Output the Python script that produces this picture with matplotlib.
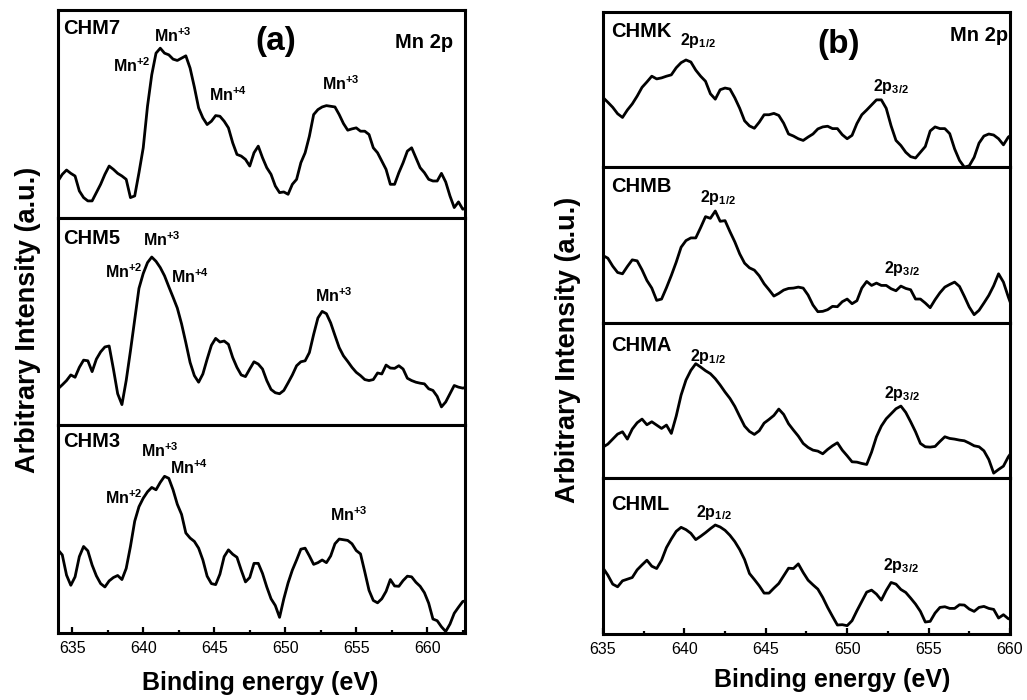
import numpy as np
import matplotlib
matplotlib.use("Agg")
import matplotlib.pyplot as plt
from matplotlib.ticker import MultipleLocator

plt.rcParams['font.family'] = ['Liberation Sans', 'DejaVu Sans']
plt.rcParams['mathtext.fontset'] = 'custom'
plt.rcParams['mathtext.rm'] = 'Liberation Sans:bold'
plt.rcParams['mathtext.bf'] = 'Liberation Sans:bold'
plt.rcParams['mathtext.it'] = 'Liberation Sans:bold'
plt.rcParams['mathtext.sf'] = 'Liberation Sans:bold'
plt.rcParams['mathtext.default'] = 'rm'

# Binding-energy grids (eV) of the two sets of scans
energy_a = np.arange(634.0, 662.85, 0.3)
energy_b = np.arange(635.0, 660.25, 0.3)

# Mn 2p spectra, set (a)
chm7 = [110, 130, 143, 133, 125, 80, 60, 50, 50, 75,
        100, 130, 155, 145, 133, 125, 115, 60, 65, 135,
        210, 335, 430, 495, 510, 495, 490, 477, 473, 480,
        487, 450, 393, 330, 300, 280, 290, 307, 305, 290,
        270, 225, 190, 185, 175, 155, 195, 215, 180, 150,
        130, 95, 75, 77, 70, 100, 115, 165, 195, 245,
        310, 325, 333, 337, 335, 333, 310, 283, 263, 267,
        270, 260, 260, 250, 210, 195, 170, 145, 100, 100,
        135, 165, 200, 210, 180, 150, 135, 115, 110, 110,
        133, 107, 65, 30, 47, 25, 30]
chm5 = [110, 122, 135, 152, 145, 175, 197, 195, 162, 200,
        222, 237, 240, 170, 95, 62, 135, 225, 320, 415,
        460, 493, 510, 497, 478, 453, 420, 388, 355, 307,
        250, 190, 150, 130, 155, 200, 242, 263, 252, 255,
        245, 205, 175, 152, 147, 170, 192, 185, 170, 135,
        108, 98, 95, 105, 128, 152, 180, 192, 195, 220,
        275, 325, 345, 338, 310, 272, 235, 210, 193, 175,
        160, 150, 138, 135, 138, 158, 155, 182, 173, 172,
        180, 170, 142, 135, 130, 127, 125, 110, 105, 87,
        55, 70, 95, 120, 115, 112, 115]
chm3 = [245, 230, 170, 140, 165, 225, 255, 242, 200, 168,
        145, 135, 153, 163, 169, 157, 190, 255, 330, 373,
        398, 417, 430, 423, 445, 463, 457, 423, 380, 350,
        295, 280, 270, 250, 215, 167, 145, 142, 173, 225,
        245, 232, 223, 185, 150, 163, 205, 205, 175, 135,
        100, 80, 45, 100, 147, 185, 215, 247, 250, 227,
        202, 207, 215, 207, 227, 263, 277, 275, 273, 263,
        243, 233, 180, 125, 95, 88, 100, 122, 157, 138,
        137, 154, 167, 165, 149, 137, 118, 87, 40, 35,
        17, 3, 25, 57, 75, 92, 95]

# Mn 2p spectra, set (b)
chmk = [207, 193, 178, 159, 148, 170, 188, 211, 237, 253,
        270, 262, 265, 270, 274, 295, 310, 318, 312, 288,
        270, 255, 218, 202, 230, 235, 232, 206, 175, 138,
        123, 116, 134, 156, 156, 160, 154, 131, 99, 93,
        85, 80, 90, 99, 114, 120, 122, 115, 115, 97,
        85, 95, 130, 156, 170, 185, 200, 200, 175, 123,
        80, 65, 45, 32, 28, 45, 62, 108, 120, 115,
        115, 100, 55, 21, 1, 5, 30, 72, 93, 99,
        96, 85, 67, 90, 100]
chmb = [203, 195, 171, 152, 148, 170, 190, 187, 160, 128,
        105, 68, 72, 106, 143, 183, 228, 248, 256, 256,
        287, 320, 315, 337, 306, 308, 275, 244, 208, 180,
        166, 159, 142, 118, 100, 81, 89, 99, 104, 105,
        108, 105, 84, 54, 34, 35, 40, 50, 49, 64,
        72, 58, 67, 105, 125, 113, 120, 113, 113, 103,
        97, 111, 104, 100, 72, 72, 60, 46, 70, 91,
        108, 116, 123, 110, 80, 48, 25, 38, 60, 83,
        112, 148, 123, 78, 38]
chma = [94, 103, 118, 133, 140, 118, 148, 167, 178, 161,
        170, 160, 150, 160, 135, 187, 250, 295, 324, 344,
        334, 323, 314, 299, 280, 259, 240, 216, 186, 157,
        141, 132, 143, 166, 177, 189, 208, 192, 164, 145,
        127, 105, 93, 85, 82, 74, 87, 98, 107, 85,
        68, 50, 49, 45, 42, 79, 125, 157, 179, 194,
        209, 217, 198, 170, 140, 105, 95, 94, 96, 111,
        125, 120, 118, 115, 113, 106, 98, 95, 83, 57,
        16, 27, 37, 65, 85]
chml = [199, 177, 150, 142, 160, 165, 170, 193, 208, 222,
        204, 197, 222, 260, 286, 309, 321, 314, 303, 284,
        294, 305, 317, 328, 322, 312, 297, 278, 254, 224,
        182, 164, 145, 123, 123, 138, 152, 175, 198, 197,
        211, 185, 162, 148, 135, 110, 80, 53, 27, 28,
        25, 40, 70, 98, 126, 132, 120, 102, 131, 155,
        150, 134, 125, 108, 90, 68, 36, 38, 63, 80,
        82, 77, 77, 88, 87, 75, 68, 80, 83, 77,
        74, 48, 58, 46, 42]

samples_a = ['CHM7', 'CHM5', 'CHM3']
samples_b = ['CHMK', 'CHMB', 'CHMA', 'CHML']
spectra_a = [chm7, chm5, chm3]
spectra_b = [chmk, chmb, chma, chml]
xticks = [635, 640, 645, 650, 655, 660]

# vertical extent of each strip
ylims_a = [625, 630, 615]
ylims_b = [460, 468, 466, 468]

# peak labels: (text, energy, intensity at text baseline)
MN2, MN3, MN4 = r'Mn$^{+2}$', r'Mn$^{+3}$', r'Mn$^{+4}$'
P12, P32 = r'2p$_{1/2}$', r'2p$_{3/2}$'
peaks_a = [
    [(MN3, 640.78, 530), (MN2, 637.85, 437), (MN4, 644.66, 350), (MN3, 652.57, 385)],
    [(MN3, 639.96, 542), (MN2, 637.31, 445), (MN4, 641.93, 432), (MN3, 652.10, 372)],
    [(MN3, 639.82, 520), (MN4, 641.89, 470), (MN2, 637.31, 380), (MN3, 653.15, 330)],
]
peaks_b = [
    [(P12, 639.73, 363), (P32, 651.60, 225)],
    [(P12, 640.96, 363), (P32, 652.25, 150)],
    [(P12, 640.35, 353), (P32, 652.25, 240)],
    [(P12, 640.71, 352), (P32, 652.20, 192)],
]
name_y_a = [553, 550, 550]
name_y_b = [387, 393, 383, 372]

LW_SPINE = 2.2
LW_CURVE = 2.0

fig = plt.figure(figsize=(10.27, 7.0), dpi=100)
gs_a = fig.add_gridspec(3, 1, left=0.0565, right=0.4528, top=0.9857,
                        bottom=0.0964, hspace=0)
gs_b = fig.add_gridspec(4, 1, left=0.5871, right=0.9834, top=0.9829,
                        bottom=0.0943, hspace=0)


def style_axis(ax, xlim, ytop, last):
    ax.set_xlim(*xlim)
    ax.set_ylim(0, ytop)
    for s in ax.spines.values():
        s.set_linewidth(LW_SPINE)
    ax.set_yticks([])
    if last:
        ax.set_xticks(xticks)
        ax.xaxis.set_minor_locator(MultipleLocator(2.5))
        ax.tick_params(axis='x', which='major', direction='in', length=4,
                       width=1.6, labelsize=11.5, pad=6, top=False)
        ax.tick_params(axis='x', which='minor', direction='in', length=2,
                       width=1.6, top=False)
    else:
        ax.set_xticks([])
        ax.tick_params(axis='x', which='minor', bottom=False)


def draw_column(gs, energy, spectra, names, ylims, peaks, name_y, xlim,
                name_x, letter, letter_pos, mn_pos, peak_size):
    axes = []
    n = len(spectra)
    for i in range(n):
        ax = fig.add_subplot(gs[i, 0])
        ax.plot(energy, spectra[i], color='black', lw=LW_CURVE,
                solid_joinstyle='round')
        style_axis(ax, xlim, ylims[i], i == n - 1)
        ax.text(name_x, name_y[i], names[i], fontsize=14.5,
                fontweight='bold', ha='left', va='baseline')
        for txt, ex, iy in peaks[i]:
            ax.text(ex, iy, txt, fontsize=peak_size, fontweight='bold',
                    ha='left', va='baseline')
        axes.append(ax)
    top = axes[0]
    top.text(letter_pos[0], letter_pos[1], letter, fontsize=24,
             fontweight='bold', ha='center', va='center')
    top.text(mn_pos[0], mn_pos[1], 'Mn 2p', fontsize=14.5,
             fontweight='bold', ha='right', va='baseline')
    return axes


draw_column(gs_a, energy_a, spectra_a, samples_a, ylims_a, peaks_a,
            name_y_a, (634.0, 662.66), 634.35, '(a)', (649.35, 530),
            (661.84, 510), 11.5)
draw_column(gs_b, energy_b, spectra_b, samples_b, ylims_b, peaks_b,
            name_y_b, (635.0, 660.0), 635.5, '(b)', (649.49, 365),
            (659.88, 375), 11.5)

fig.text(0.2537, 0.0143, 'Binding energy (eV)', fontsize=18,
         fontweight='bold', ha='center', va='baseline')
fig.text(0.8106, 0.019, 'Binding energy (eV)', fontsize=18,
         fontweight='bold', ha='center', va='baseline')
fig.text(0.0273, 0.543, 'Arbitrary Intensity (a.u.)', fontsize=19.5,
         fontweight='bold', rotation=90, ha='center', va='center')
fig.text(0.553, 0.50, 'Arbitrary Intensity (a.u.)', fontsize=19.5,
         fontweight='bold', rotation=90, ha='center', va='center')

fig.savefig('out.png', dpi=100)
